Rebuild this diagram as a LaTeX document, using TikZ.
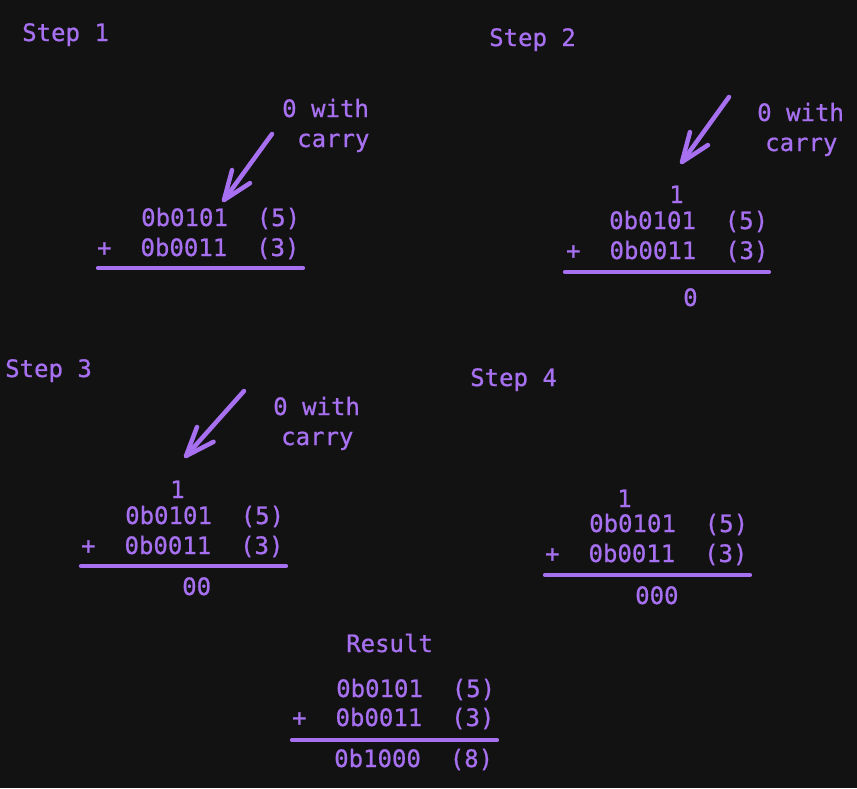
\documentclass[tikz,border=0pt]{standalone}
\usepackage{fontspec}
\setmonofont[FakeBold=0.8]{DejaVu Sans Mono}
\usetikzlibrary{calc}
\definecolor{bg}{HTML}{121212}
\definecolor{vio}{RGB}{166,112,240}
\tikzset{
  txt/.style={anchor=base west,inner sep=0pt,text=vio,font=\ttfamily\fontsize{24}{28}\selectfont},
  rule/.style={draw=vio,line width=4.2pt,line cap=round},
  carryarrow/.style={draw=vio,line width=4.5pt,line cap=round,line join=round}
}
\newcommand{\carryarr}[2]{%
  \draw[carryarrow] (#1) -- (#2);
  \draw[carryarrow] ($(#2)!31pt!21:(#1)$) -- (#2) -- ($(#2)!31pt!-21:(#1)$);
}
\begin{document}
\begin{tikzpicture}[x=1pt,y=-1pt]
\fill[bg] (0,0) rectangle (857,788);
\useasboundingbox (0,0) rectangle (857,788);
% Step 1
\node[txt] (s1) at (22,41) {Step 1};
\node[txt] (s1w) at (282,117) {0 with};
\node[txt] (s1c) at (297,147) {carry};
\coordinate (s1a) at (272,134);
\coordinate (s1b) at (224,200);
\carryarr{s1a}{s1b}
\node[txt] (s1r1) at (141,226) {0b0101\ \ (5)};
\node[txt] (s1r2) at (97,256) {+\ \ 0b0011\ \ (3)};
\coordinate (s1l) at (98,268);
\coordinate (s1r) at (303,268);
\draw[rule] (s1l) -- (s1r);
% Step 2
\node[txt] (s2) at (489,46) {Step 2};
\node[txt] (s2w) at (757,121) {0 with};
\node[txt] (s2c) at (765,151) {carry};
\coordinate (s2a) at (729,97);
\coordinate (s2b) at (682,162);
\carryarr{s2a}{s2b}
\node[txt] (s2k) at (669,203) {1};
\node[txt] (s2r1) at (609,229) {0b0101\ \ (5)};
\node[txt] (s2r2) at (566,259) {+\ \ 0b0011\ \ (3)};
\coordinate (s2l) at (565,272);
\coordinate (s2r) at (769,272);
\draw[rule] (s2l) -- (s2r);
\node[txt] (s2s) at (683,306) {0};
% Step 3
\node[txt] (s3) at (5,377) {Step 3};
\node[txt] (s3w) at (273,415) {0 with};
\node[txt] (s3c) at (281,445) {carry};
\coordinate (s3a) at (244,391);
\coordinate (s3b) at (186,456);
\carryarr{s3a}{s3b}
\node[txt] (s3k) at (170,498) {1};
\node[txt] (s3r1) at (125,524) {0b0101\ \ (5)};
\node[txt] (s3r2) at (81,554) {+\ \ 0b0011\ \ (3)};
\coordinate (s3l) at (81,566);
\coordinate (s3r) at (286,566);
\draw[rule] (s3l) -- (s3r);
\node[txt] (s3s) at (182,595) {00};
% Step 4
\node[txt] (s4) at (470,386) {Step 4};
\node[txt] (s4k) at (617,507) {1};
\node[txt] (s4r1) at (589,532) {0b0101\ \ (5)};
\node[txt] (s4r2) at (545,562) {+\ \ 0b0011\ \ (3)};
\coordinate (s4l) at (545,575);
\coordinate (s4r) at (750,575);
\draw[rule] (s4l) -- (s4r);
\node[txt] (s4s) at (635,604) {000};
% Result
\node[txt] (res) at (346,652) {Result};
\node[txt] (rr1) at (336,697) {0b0101\ \ (5)};
\node[txt] (rr2) at (292,726) {+\ \ 0b0011\ \ (3)};
\coordinate (rl) at (292,740);
\coordinate (rr) at (497,740);
\draw[rule] (rl) -- (rr);
\node[txt] (rr3) at (334,767) {0b1000\ \ (8)};
\end{tikzpicture}
\end{document}
